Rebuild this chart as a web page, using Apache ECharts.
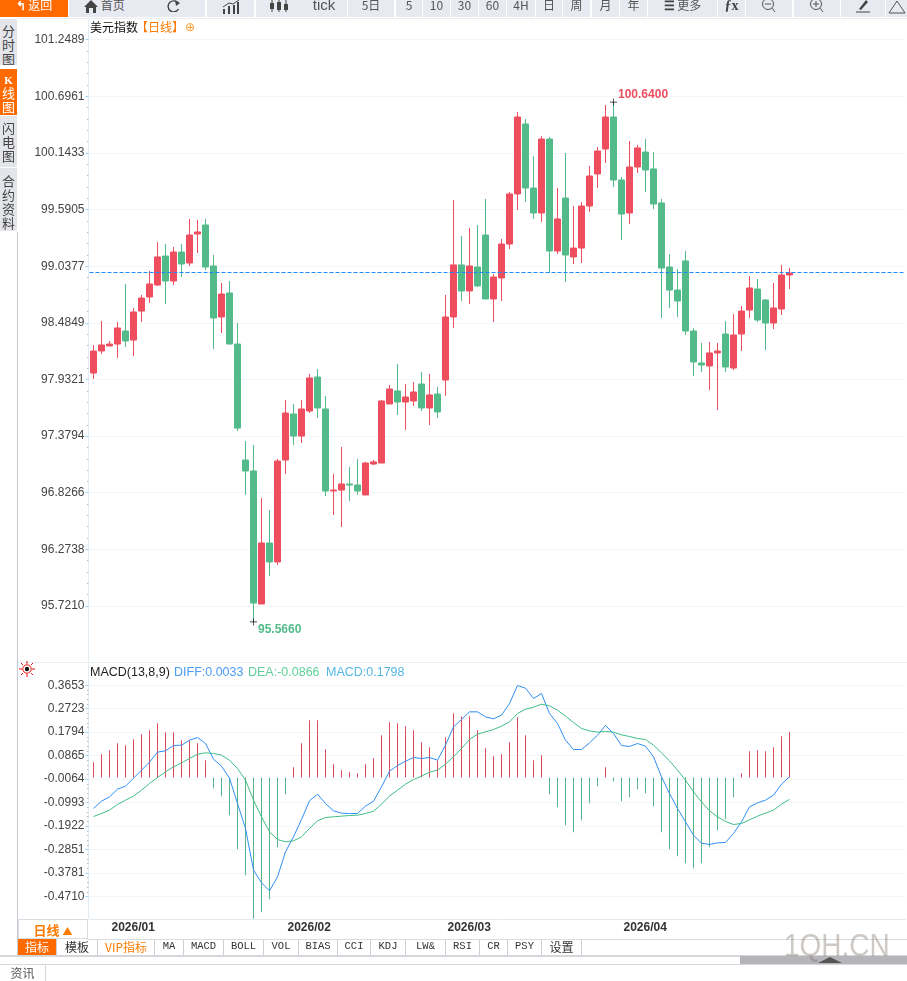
<!DOCTYPE html>
<html>
<head>
<meta charset="utf-8">
<title>美元指数 日线</title>
<script src="https://cdn.jsdelivr.net/npm/echarts@6/dist/echarts.min.js"></script>
<style>
html,body{margin:0;padding:0;background:#fff;overflow:hidden;}
body{width:907px;height:981px;position:relative;font-family:"Liberation Sans","Noto Sans CJK SC",sans-serif;}
#my{position:absolute;left:0;top:0;width:907px;height:981px;}
.box{position:absolute;box-sizing:border-box;text-align:center;white-space:nowrap;overflow:hidden;}
.btn{top:0;height:17px;background:#e8eaf2;color:#555;font-size:12px;line-height:9px;font-family:"Noto Sans CJK SC",sans-serif;}
.btn svg{vertical-align:top;margin-top:0;}
.side{left:0;width:17px;background:#e3e5ea;color:#444;font-size:13px;line-height:14px;white-space:normal;font-family:"Noto Sans CJK SC",sans-serif;}
.tab{top:939px;height:16px;line-height:15px;border-right:1px solid #ccd2d8;color:#333;font-size:10.5px;font-family:"Liberation Mono",monospace;}
.cjk{font-family:"Noto Sans CJK SC",sans-serif;font-size:12px;}
.line{position:absolute;}
</style>
</head>
<body>
<div id="my"></div>

<div class="line" style="left:17px;top:18px;width:890px;height:1px;background:#e8eef0"></div>
<div class="line" style="left:17px;top:662px;width:890px;height:1px;background:#e8eef0"></div>
<div class="line" style="left:17px;top:232px;width:1px;height:723px;background:#c8ccd4"></div>
<div class="line" style="left:87px;top:939px;width:820px;height:1px;background:#d8dde2"></div>
<div class="line" style="left:0;top:955px;width:907px;height:2px;background:#d4d8dd"></div>
<div class="line" style="left:0;top:964px;width:907px;height:1px;background:#d4d8dd"></div>
<div class="line" style="left:740px;top:956px;width:167px;height:8px;background:#b4b4b9"></div>
<div class="line" style="left:818px;top:957px;width:0;height:0;border-left:12px solid transparent;border-right:12px solid transparent;border-bottom:6px solid #555"></div>

<div class="box side" style="top:19px;height:46px;padding-top:5px">分时图</div>
<div class="box side" style="top:69px;height:46px;padding-top:3px;background:#ff6a00;color:#fff"><span style="font:bold 11px 'Liberation Serif'">K</span><br>线<br>图</div>
<div class="box side" style="top:116px;height:51px;padding-top:5px">闪电图</div>
<div class="box side" style="top:168px;height:63px;padding-top:6px">合约资料</div>

<div class="box" style="left:18px;top:919px;width:70px;height:20px;border:1px solid #d8dde2;color:#ff7a00;font-size:13px;line-height:19px;font-weight:bold;font-family:'Noto Sans CJK SC',sans-serif">日线 <span style="font-size:10px">▲</span></div>
<div class="box cjk" style="left:0;top:965px;width:46px;height:16px;line-height:16px;border-right:1px solid #d4d8dd;color:#555">资讯</div>

<svg style="position:absolute;left:19px;top:661px" width="16" height="16" viewBox="0 0 16 16">
<g stroke="#e81010" stroke-width="1"><path d="M8 0V3M8 13V16M0 8H3M13 8H16M2 2L4 4M12 12L14 14M14 2L12 4M4 12L2 14"/></g>
<circle cx="8" cy="8" r="4.2" fill="#fff" stroke="#e81010"/><circle cx="8" cy="8" r="2.2" fill="#111"/>
</svg>

<div id="watermark" style="position:absolute;left:784px;top:928px;font-size:28px;line-height:32px;color:rgba(125,112,100,.38);transform:scaleY(1.12);transform-origin:top left">1QH.CN</div>

<script>
// 日K 数据
var categories = [
	'2025/12/30','2025/12/31',
	'2026/01/01','2026/01/02','2026/01/05','2026/01/06','2026/01/07','2026/01/08','2026/01/09','2026/01/12','2026/01/13','2026/01/14','2026/01/15','2026/01/16','2026/01/19','2026/01/20','2026/01/21','2026/01/22','2026/01/23','2026/01/26','2026/01/27','2026/01/28','2026/01/29','2026/01/30',
	'2026/02/02','2026/02/03','2026/02/04','2026/02/05','2026/02/06','2026/02/09','2026/02/10','2026/02/11','2026/02/12','2026/02/13','2026/02/16','2026/02/17','2026/02/18','2026/02/19','2026/02/20','2026/02/23','2026/02/24','2026/02/25','2026/02/26','2026/02/27',
	'2026/03/02','2026/03/03','2026/03/04','2026/03/05','2026/03/06','2026/03/09','2026/03/10','2026/03/11','2026/03/12','2026/03/13','2026/03/16','2026/03/17','2026/03/18','2026/03/19','2026/03/20','2026/03/23','2026/03/24','2026/03/25','2026/03/26','2026/03/27','2026/03/30','2026/03/31',
	'2026/04/01','2026/04/02','2026/04/03','2026/04/06','2026/04/07','2026/04/08','2026/04/09','2026/04/10','2026/04/13','2026/04/14','2026/04/15','2026/04/16','2026/04/17','2026/04/20','2026/04/21','2026/04/22','2026/04/23','2026/04/24','2026/04/27','2026/04/28','2026/04/29','2026/04/30'
];
var monthStarts = ['2026/01/01','2026/02/02','2026/03/02','2026/04/01'];
var opens = [97.995,98.210,98.259,98.278,98.405,98.317,98.600,98.737,98.854,99.137,98.893,99.176,99.069,99.352,99.440,99.040,98.542,98.776,98.278,97.146,97.039,95.741,96.336,96.151,97.146,97.595,97.380,97.624,97.956,97.644,96.844,96.853,96.912,96.902,96.805,97.107,97.117,97.693,97.820,97.712,97.722,97.888,97.654,97.790,97.927,98.542,99.050,98.796,99.030,99.342,98.718,98.923,99.254,99.743,100.426,99.801,99.557,100.279,99.186,99.703,99.128,99.215,99.625,99.938,100.182,100.494,99.879,99.557,100.006,100.152,99.987,99.655,99.030,98.805,99.089,98.405,98.093,98.064,98.191,98.376,98.044,98.376,98.610,98.815,98.708,98.483,98.620,98.952];
var closes = [98.210,98.269,98.278,98.435,98.308,98.591,98.727,98.864,99.128,98.893,99.176,99.059,99.342,99.372,99.030,98.532,98.766,98.278,97.458,97.039,95.750,96.336,96.151,97.136,97.605,97.380,97.644,97.947,97.654,96.844,96.853,96.912,96.902,96.844,97.117,97.127,97.722,97.839,97.712,97.761,97.810,97.654,97.781,97.615,98.542,99.050,98.796,99.040,98.845,98.718,98.932,99.254,99.743,100.494,99.801,99.557,100.279,99.186,99.499,99.147,99.215,99.625,99.918,100.162,100.494,99.879,99.547,100.006,100.192,99.977,99.645,99.020,98.805,98.698,98.405,98.103,98.073,98.191,98.210,98.054,98.366,98.600,98.825,98.513,98.483,98.630,98.952,98.971];
var lows = [97.937,98.181,98.259,98.142,98.249,98.161,98.493,98.679,98.845,98.669,98.854,98.932,99.040,99.167,99.001,98.230,98.386,98.278,97.429,96.805,95.566,95.741,96.014,96.121,97.010,97.293,97.312,97.605,97.556,96.795,96.609,96.492,96.746,96.805,96.805,97.097,97.117,97.693,97.585,97.439,97.673,97.624,97.488,97.556,97.771,98.435,98.698,98.669,98.835,98.718,98.493,98.698,99.206,99.586,99.664,99.499,99.469,98.971,99.157,98.884,99.059,99.069,99.567,99.801,100.045,99.811,99.294,99.450,99.948,99.762,99.596,98.532,98.630,98.542,98.366,97.966,98.005,97.829,97.634,98.005,98.025,98.210,98.532,98.493,98.220,98.425,98.561,98.815];
var highs = [98.269,98.503,98.308,98.493,98.864,98.630,98.757,98.991,99.274,99.254,99.225,99.254,99.499,99.489,99.499,99.147,98.874,98.893,98.483,97.332,97.293,96.775,96.658,97.156,97.732,97.693,97.732,97.986,98.034,97.771,97.010,97.273,97.078,97.156,97.127,97.146,97.732,97.878,98.083,97.888,97.908,98.005,97.986,97.859,98.757,99.684,99.333,99.411,99.440,99.694,98.962,99.303,99.762,100.543,100.475,100.113,100.309,100.299,99.801,100.143,99.625,99.664,100.016,100.201,100.611,100.640,99.908,100.260,100.221,100.279,100.152,99.694,99.157,99.010,99.186,98.435,98.288,98.298,98.288,98.503,98.571,98.649,98.942,98.913,98.718,98.874,99.050,99.020];
var lastPrice = 98.978;

// MACD
var diffValues = [-.1227,-.0937,-.0765,-.0462,-.0343,-.0026,.0290,.0607,.1003,.1055,.1266,.1280,.1477,.1583,.1345,.0726,.0448,-.0026,-.1029,-.2018,-.3667,-.4168,-.4485,-.3931,-.2942,-.2348,-.1662,-.0923,-.0660,-.1029,-.1319,-.1411,-.1425,-.1425,-.1134,-.0937,-.0369,.0251,.0475,.0646,.0791,.0752,.0791,.0686,.1280,.2005,.2295,.2599,.2599,.2401,.2322,.2467,.2928,.3641,.3535,.3126,.3324,.2533,.2137,.1477,.1108,.1108,.1372,.1675,.2058,.1741,.1266,.1227,.1345,.1240,.0818,.0026,-.0633,-.1227,-.1754,-.2282,-.2599,-.2651,-.2585,-.2572,-.2216,-.1754,-.1161,-.1003,-.0897,-.0699,-.0264,.0033];
var deaValues = [-.1543,-.1425,-.1293,-.1068,-.0897,-.0739,-.0501,-.0237,.0000,.0224,.0422,.0580,.0752,.0923,.0976,.0950,.0884,.0686,.0356,-.0106,-.0897,-.1557,-.2150,-.2454,-.2546,-.2506,-.2348,-.2018,-.1715,-.1583,-.1557,-.1530,-.1504,-.1491,-.1425,-.1332,-.1055,-.0739,-.0501,-.0264,-.0079,.0053,.0211,.0290,.0528,.0818,.1148,.1504,.1715,.1807,.1900,.2031,.2203,.2533,.2704,.2783,.2902,.2836,.2665,.2427,.2177,.1939,.1847,.1794,.1820,.1794,.1688,.1622,.1543,.1504,.1280,.0976,.0660,.0290,-.0106,-.0567,-.0963,-.1319,-.1557,-.1741,-.1860,-.1820,-.1675,-.1530,-.1411,-.1293,-.1055,-.0866];
var macdValues = [.0607,.0923,.1082,.1359,.1280,.1517,.1715,.1873,.2150,.1794,.1794,.1477,.1477,.1359,.0686,-.0422,-.0739,-.1491,-.2836,-.3865,-.5590,-.5329,-.4815,-.2757,-.0660,.0409,.1359,.2269,.2269,.1121,.0528,.0290,.0211,.0171,.0528,.0765,.1675,.2190,.2150,.2031,.1873,.1398,.1200,.0686,.1596,.2546,.2427,.2427,.1873,.1161,.0844,.0923,.1398,.2388,.1675,.0686,.0884,-.0660,-.1174,-.1886,-.2163,-.1688,-.1016,-.0343,.0409,-.0145,-.0937,-.0778,-.0462,-.0620,-.1134,-.2163,-.2836,-.3113,-.3390,-.3588,-.3390,-.2757,-.2084,-.1649,-.0778,.0171,.1042,.1082,.1042,.1200,.1636,.1798];

// 刻度
var priceTicks = [95.7210,96.2738,96.8266,97.3794,97.9321,98.4849,99.0377,99.5905,100.1433,100.6961,101.2489];
var macdTicks = [-.4710,-.3781,-.2851,-.1922,-.0993,-.0064,.0865,.1794,.2723,.3653];

// 工具栏
var toolButtons = [
	[69,71,'<svg width="14" height="13"><path d="M7 0L14 7H12V13H9V8H5V13H2V7H0Z" fill="#444"/></svg> 首页'],[140,65,'<svg width="20" height="12"><path d="M15 3A5.5 5.5 0 1 0 15.5 9" fill="none" stroke="#444" stroke-width="1.4"/><path d="M12 0L17 3L13 6Z" fill="#444"/></svg>'],
	[207,47,'<svg width="20" height="14"><path d="M2 14V9H4V14ZM7 14V6H9V14ZM12 14V5H14V14ZM16 14V2H18V14Z" fill="#444"/><path d="M2 7L8 3L12 4L18 0" fill="none" stroke="#444"/></svg>'],
	[256,45,'<svg width="20" height="14"><path d="M3 0V12M10 0V12M17 0V12" stroke="#444"/><path d="M1 3H5V9H1ZM8 2H12V10H8ZM15 4H19V10H15Z" fill="#444"/></svg>'],
	[301,46,'<span style="font-size:15px;font-family:Liberation Sans">tick</span>'],[348,46,'5日'],[396,26,'5'],[423,27,'10'],[451,27,'30'],[479,27,'60'],[507,28,'4H'],[536,26,'日'],[563,27,'周'],[592,27,'月'],[620,27,'年'],
	[648,69,'<b style="color:#444">☰</b> 更多'],[718,27,'<b style="font-size:14px;color:#444;font-family:Liberation Serif">ƒx</b>'],
	[746,46,'<svg width="16" height="13"><circle cx="7" cy="4" r="5.5" fill="none" stroke="#555"/><path d="M4 4H10M11 8L14 12" stroke="#555"/></svg>'],
	[794,46,'<svg width="16" height="13"><circle cx="7" cy="4" r="5.5" fill="none" stroke="#555"/><path d="M4 4H10M7 1V7M11 8L14 12" stroke="#555"/></svg>'],
	[841,44,'<svg width="18" height="14"><path d="M5 9L12 0L14 2L7 10Z" fill="#444"/><path d="M2 12H16" stroke="#444"/></svg>'],
	[886,21,'<svg width="18" height="14"><path d="M9 1L17 13H1Z" fill="none" stroke="#555"/></svg>']
];
var bottomTabs = [
	[18,39,'指标','#ff6a00','#fff',1],[57,41,'模板','','#333',1],[98,57,'VIP指标','','#ff7a00',1],[155,29,'MA'],[184,40,'MACD'],[224,40,'BOLL'],[264,35,'VOL'],[299,39,'BIAS'],[338,33,'CCI'],[371,35,'KDJ'],[406,40,'LW&'],[446,34,'RSI'],[480,28,'CR'],[508,34,'PSY'],[542,40,'设置','','#333',1]
];
function addBox(cls,left,width,html,bg,color){
	var d=document.createElement('div');
	d.className='box '+cls;
	d.style.left=left+'px';
	d.style.width=width+'px';
	d.innerHTML=html;
	if(bg)d.style.background=bg;
	if(color)d.style.color=color;
	document.body.appendChild(d);
}
toolButtons.forEach(function(b){addBox('btn',b[0],b[1],b[2]);});
addBox('btn',0,68,'<b>↰</b> 返回','#ff6a00','#fff');
bottomTabs.forEach(function(t){addBox(t[5]?'tab cjk':'tab',t[0],t[1],t[2],t[3],t[4]);});

// 小刻度: 每两条主刻度之间 4 根
function minorOf(ticks){
	var out=[];
	for(var i=0;i<ticks.length-1;i++){
		for(var j=1;j<5;j++)out.push(ticks[i]+(ticks[i+1]-ticks[i])*j/5);
	}
	return out;
}

var fullCategories = categories.slice();
while(fullCategories.length<102)fullCategories.push('');

var gridLeft = 89.5, gridWidth = 816;
var axisFont = {fontFamily:'Liberation Sans',fontSize:12,color:'#444',margin:4,padding:[0,0,2,0],formatter:function(v){return Number(v).toFixed(4);}};

function valueAxis(gridIndex,min,max,ticks){
	return {
		type:'value',gridIndex:gridIndex,min:min,max:max,position:'left',offset:1,
		axisLine:{show:true,onZero:false,lineStyle:{color:'#e2ecf2'}},
		axisTick:{show:true,length:3,lineStyle:{color:'#a9d2ee'},customValues:ticks},
		axisLabel:Object.assign({customValues:ticks},axisFont),
		splitLine:{show:true,lineStyle:{color:'#e9ebed',type:'dotted'}}
	};
}
function minorAxis(gridIndex,min,max,ticks){
	return {
		type:'value',gridIndex:gridIndex,min:min,max:max,position:'left',offset:1,
		axisLine:{show:false},
		axisTick:{show:true,length:1.5,lineStyle:{color:'#b5bcc4'},customValues:minorOf(ticks)},
		axisLabel:{show:false},splitLine:{show:false}
	};
}

var highest = Math.max.apply(null,highs), lowest = Math.min.apply(null,lows);
var crossIcon = 'path://M0 4.5H10V5.5H0ZM4.5 0H5.5V10H4.5Z';
var myChart = echarts.init(document.getElementById('my'));
myChart.setOption({
	animation:false,
	grid:[
		{left:gridLeft,top:18,width:gridWidth,height:642},
		{left:gridLeft,top:662,width:gridWidth,height:257}
	],
	xAxis:[
		{type:'category',gridIndex:0,data:fullCategories,show:false},
		{
			type:'category',gridIndex:1,data:fullCategories,
			axisLine:{onZero:false,lineStyle:{color:'#e3e9ee'}},
			axisTick:{alignWithLabel:true,length:5,lineStyle:{color:'#cfd6dc'},interval:function(i,v){return monthStarts.indexOf(v)>=0;}},
			axisLabel:{
				interval:function(i,v){return monthStarts.indexOf(v)>=0;},
				formatter:function(v){return v.slice(0,7);},
				align:'left',padding:[0,0,0,2],margin:3,
				fontFamily:'Liberation Sans',fontSize:12,fontWeight:'bold',color:'#333'
			}
		}
	],
	yAxis:[
		valueAxis(0,95.1940,101.4604,priceTicks),
		minorAxis(0,95.1940,101.4604,priceTicks),
		valueAxis(1,-.5600,.4571,macdTicks),
		minorAxis(1,-.5600,.4571,macdTicks)
	],
	graphic:[
		{type:'text',left:90,top:21,style:{text:'美元指数',font:'12px "Noto Sans CJK SC"',fill:'#111'}},
		{type:'text',left:136,top:21,style:{text:'【日线】',font:'12px "Noto Sans CJK SC"',fill:'#ff7a00'}},
		{type:'text',left:185,top:22,style:{text:'⊕',font:'12px "DejaVu Sans"',fill:'#ff9a30'}},
		{type:'text',left:90,top:666,style:{text:'MACD(13,8,9)',font:'12.5px "Liberation Sans"',fill:'#222'}},
		{type:'text',left:174,top:666,style:{text:'DIFF:0.0033',font:'12.5px "Liberation Sans"',fill:'#4a9cf5'}},
		{type:'text',left:248,top:666,style:{text:'DEA:-0.0866',font:'12.5px "Liberation Sans"',fill:'#5fd09b'}},
		{type:'text',left:326,top:666,style:{text:'MACD:0.1798',font:'12.5px "Liberation Sans"',fill:'#55b7e8'}}
	],
	series:[
		{
			type:'candlestick',xAxisIndex:0,yAxisIndex:0,barWidth:7,
			data:opens.map(function(o,i){return [o,closes[i],lows[i],highs[i]];}),
			itemStyle:{color:'#ef4e5f',color0:'#52bb89',borderColor:'#ef4e5f',borderColor0:'#52bb89',borderWidth:1},
			markLine:{
				silent:true,symbol:'none',label:{show:false},
				lineStyle:{color:'#1e88ff',type:'dashed',width:1},
				data:[{yAxis:lastPrice}]
			},
			markPoint:{
				silent:true,symbol:crossIcon,symbolSize:7,itemStyle:{color:'#111'},
				data:[
					{
						coord:[categories[highs.indexOf(highest)],highest],
						label:{show:true,position:'right',offset:[-4,-7],formatter:highest.toFixed(4),fontFamily:'Liberation Sans',fontWeight:'bold',fontSize:12,color:'#ef4e5f'}
					},
					{
						coord:[categories[lows.indexOf(lowest)],lowest],
						label:{show:true,position:'right',offset:[-4,8],formatter:lowest.toFixed(4),fontFamily:'Liberation Sans',fontWeight:'bold',fontSize:12,color:'#52bb89'}
					}
				]
			}
		},
		{
			type:'bar',xAxisIndex:1,yAxisIndex:2,barWidth:1,data:macdValues,
			itemStyle:{color:function(p){return p.value>=0?'#dc4a5c':'#58b488';}}
		},
		{
			type:'line',xAxisIndex:1,yAxisIndex:2,data:diffValues,showSymbol:false,
			lineStyle:{color:'#2f8ff5',width:1}
		},
		{
			type:'line',xAxisIndex:1,yAxisIndex:2,data:deaValues,showSymbol:false,
			lineStyle:{color:'#3ebd84',width:1}
		}
	]
});
</script>
</body>
</html>
